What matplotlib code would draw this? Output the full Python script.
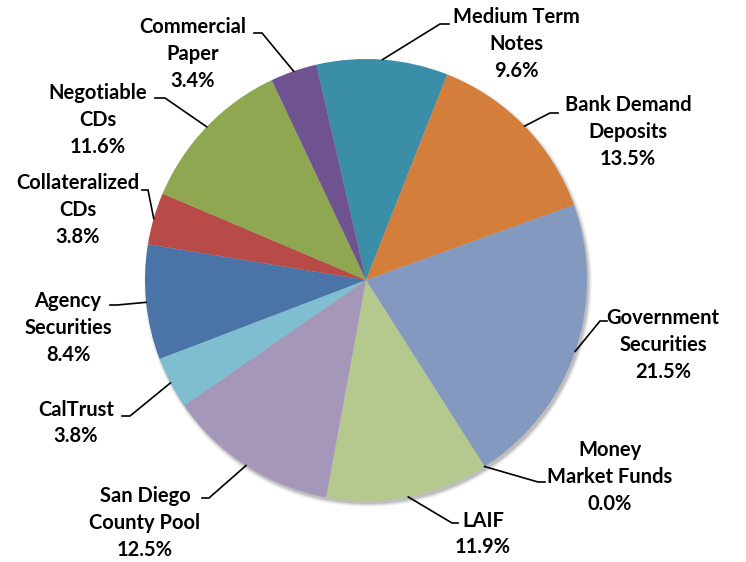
import numpy as np
import matplotlib
matplotlib.use('Agg')
import matplotlib.pyplot as plt
from matplotlib.patches import Circle

# Portfolio composition, clockwise from the top
labels = ['Medium Term\nNotes', 'Bank Demand\nDeposits', 'Government\nSecurities',
          'Money\nMarket Funds', 'LAIF', 'San Diego\nCounty Pool', 'CalTrust',
          'Agency\nSecurities', 'Collateralized\nCDs', 'Negotiable\nCDs',
          'Commercial\nPaper']
shares = [9.6, 13.5, 21.5, 0.0, 11.9, 12.5, 3.8, 8.4, 3.8, 11.6, 3.4]
colors = ['#3B8EA8', '#D37F3B', '#8499BF', '#4F81BD', '#B5C98E', '#A497BA',
          '#7FBDD1', '#4A73A8', '#B84B47', '#8FA750', '#6F5391']

# label layout in pixel coords (y from top): text centre, elbow, end of horizontal tick
text_pos = [(516, 44), (628, 132), (663, 345), (610, 477), (483, 534),
            (145, 523), (76, 423), (68, 328), (78, 210), (98, 120), (193, 54)]
elbows = [(440, 24), (550, 113), (600, 321), (538, 482), (452, 523),
          (209, 498), (130, 416), (117, 305), (148, 190), (165, 98), (262, 33)]
tick_ends = [(449, 24), (558, 113), (607, 321), (545, 482), (458, 523),
             (202, 498), (122, 416), (110, 305), (142, 190), (155, 98), (254, 33)]

W, H = 746, 562
cx, cy, r = 366, 280, 221

fig = plt.figure(figsize=(W / 100, H / 100), dpi=100)
ax = fig.add_axes([0, 0, 1, 1])

# soft shadow
for i, a in enumerate([0.06, 0.08, 0.12, 0.18]):
    ax.add_patch(Circle((cx + 2, H - cy - 3), r + 3 - i, color='#555555',
                        alpha=a, lw=0, zorder=0))

wedges, _ = ax.pie(shares, colors=colors, startangle=103, counterclock=False,
                   radius=r, center=(cx, H - cy), frame=True,
                   wedgeprops=dict(linewidth=0))
ax.set_xlim(0, W)
ax.set_ylim(0, H)
ax.set_aspect('equal')
ax.axis('off')

for w, lab, val, tp, el, te in zip(wedges, labels, shares, text_pos, elbows, tick_ends):
    mid = np.deg2rad((w.theta1 + w.theta2) / 2)
    ex = cx + r * np.cos(mid)
    ey = (H - cy) + r * np.sin(mid)
    ax.plot([ex, el[0], te[0]], [ey, H - el[1], H - te[1]], color='black',
            lw=1.2, solid_joinstyle='miter', zorder=5)
    ax.text(tp[0], H - tp[1], f'{lab}\n{val:.1f}%', ha='center', va='center',
            fontsize=14.5, fontweight='bold', family='Lato', linespacing=1.42,
            color='black', zorder=6)

fig.savefig('out.png', dpi=100)
